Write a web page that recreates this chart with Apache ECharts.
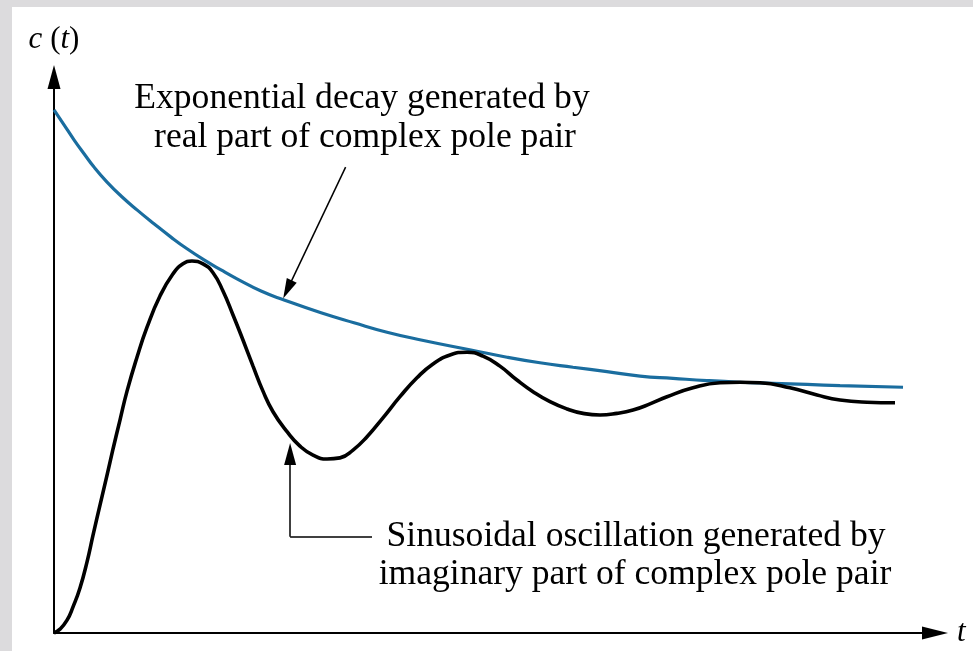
<!DOCTYPE html>
<html>
<head>
<meta charset="utf-8">
<script src="https://cdn.jsdelivr.net/npm/echarts@6/dist/echarts.min.js"></script>
<style>
  html, body { margin: 0; padding: 0; background: #fff; }
  #main { width: 973px; height: 651px; }
</style>
</head>
<body>
<div id="main"></div>
<script>
// exponential envelope (t, c(t))
var tDecay = [0, 0.114, 0.227, 0.341, 0.454, 0.602, 0.761, 0.942, 1.135, 1.328, 1.510, 1.703, 1.896, 2.077, 2.350, 2.611,
              3.031, 3.405, 3.780, 4.166, 4.733, 5.142, 5.516, 5.891, 6.277, 6.652, 7.026, 7.412, 7.787, 8.161, 8.547, 8.922, 9.637];
var cDecay = [0.941, 0.914, 0.887, 0.862, 0.838, 0.811, 0.786, 0.761, 0.736, 0.712, 0.691, 0.671, 0.653, 0.637, 0.615, 0.599,
              0.576, 0.558, 0.541, 0.527, 0.509, 0.496, 0.486, 0.478, 0.470, 0.462, 0.458, 0.454, 0.451, 0.449, 0.447, 0.445, 0.442];

// damped step response
var tResp = [0, 0.068, 0.148, 0.216, 0.295, 0.375, 0.443, 0.522, 0.602, 0.670, 0.749, 0.829, 0.942, 1.056, 1.203, 1.351,
             1.464, 1.566, 1.691, 1.805, 1.918, 2.032, 2.145, 2.259, 2.372, 2.486, 2.645, 2.792, 2.940, 3.099, 3.246, 3.394,
             3.553, 3.734, 3.927, 4.120, 4.302, 4.495, 4.688, 4.870, 5.062, 5.255, 5.437, 5.630, 5.823, 6.005, 6.198, 6.390,
             6.572, 6.765, 6.958, 7.253, 7.560, 7.787, 8.014, 8.354, 8.661, 8.922, 9.228, 9.546];
var cResp = [0, 0.007, 0.023, 0.047, 0.081, 0.128, 0.176, 0.230, 0.284, 0.331, 0.383, 0.435, 0.496, 0.550, 0.606, 0.646,
             0.664, 0.669, 0.664, 0.648, 0.615, 0.572, 0.527, 0.480, 0.435, 0.398, 0.362, 0.336, 0.320, 0.313, 0.315, 0.329,
             0.353, 0.387, 0.425, 0.459, 0.484, 0.500, 0.505, 0.498, 0.480, 0.455, 0.434, 0.416, 0.403, 0.395, 0.392, 0.395,
             0.401, 0.412, 0.425, 0.441, 0.450, 0.451, 0.450, 0.441, 0.428, 0.419, 0.415, 0.414];

// annotation arrows [t, c]
var arrowDecay = [[3.31, 0.838], [2.65, 0.618]];
var arrowOsc = [[3.61, 0.173], [2.68, 0.173], [2.68, 0.322]];

var labelDecay = ['Exponential decay generated by', 'real part of complex pole pair'];
var labelOsc = ['Sinusoidal oscillation generated by', 'imaginary part of complex pole pair'];

var serif = 'Liberation Serif';
var textFont = '35.6px "Liberation Serif"';

function pairs(xs, ys) {
    return xs.map(function (x, i) { return [x, ys[i]]; });
}

var chart = echarts.init(document.getElementById('main'));

var option = {
    animation: false,
    backgroundColor: '#fff',
    grid: { left: 54, right: 38, top: 77, bottom: 18 },
    xAxis: {
        type: 'value', min: 0, max: 10,
        name: '{i|t}',
        nameLocation: 'end',
        nameGap: 22,
        nameTextStyle: {
            color: '#000', fontFamily: serif, fontSize: 30,
            rich: { i: { fontStyle: 'italic', fontFamily: serif, fontSize: 31, color: '#000' } }
        },
        axisLine: {
            lineStyle: { color: '#000', width: 2 },
            symbol: ['none', 'triangle'],
            symbolSize: [13, 26]
        },
        axisTick: { show: false },
        axisLabel: { show: false },
        splitLine: { show: false }
    },
    yAxis: {
        type: 'value', min: 0, max: 1,
        name: '{i|c} ({i|t})',
        nameLocation: 'end',
        nameGap: 22,
        nameTextStyle: {
            color: '#000', fontFamily: serif, fontSize: 31,
            rich: { i: { fontStyle: 'italic', fontFamily: serif, fontSize: 31, color: '#000' } }
        },
        axisLine: {
            lineStyle: { color: '#000', width: 2 },
            symbol: ['none', 'triangle'],
            symbolSize: [13, 24]
        },
        axisTick: { show: false },
        axisLabel: { show: false },
        splitLine: { show: false }
    },
    graphic: [
        { type: 'rect', shape: { x: 0, y: 0, width: 973, height: 7 }, style: { fill: '#dcdbdd' }, silent: true },
        { type: 'rect', shape: { x: 0, y: 0, width: 12, height: 651 }, style: { fill: '#dcdbdd' }, silent: true },
        { type: 'text', x: 362, y: 99, style: { text: labelDecay[0], font: textFont, fill: '#000', textAlign: 'center', textVerticalAlign: 'middle' } },
        { type: 'text', x: 365, y: 138, style: { text: labelDecay[1], font: textFont, fill: '#000', textAlign: 'center', textVerticalAlign: 'middle' } },
        { type: 'text', x: 636, y: 537, style: { text: labelOsc[0], font: textFont, fill: '#000', textAlign: 'center', textVerticalAlign: 'middle' } },
        { type: 'text', x: 635, y: 575, style: { text: labelOsc[1], font: textFont, fill: '#000', textAlign: 'center', textVerticalAlign: 'middle' } }
    ],
    series: [
        {
            name: 'decay',
            type: 'line',
            data: pairs(tDecay, cDecay),
            smooth: 0.5,
            showSymbol: false,
            silent: true,
            lineStyle: { color: '#1a6d9f', width: 3.2 },
            z: 2
        },
        {
            name: 'response',
            type: 'line',
            data: pairs(tResp, cResp),
            smooth: 0.5,
            showSymbol: false,
            silent: true,
            lineStyle: { color: '#000', width: 3.6 },
            z: 3,
            markLine: {
                silent: true,
                animation: false,
                label: { show: false },
                lineStyle: { color: '#000', width: 1.5, type: 'solid' },
                symbol: ['none', 'none'],
                data: [
                    [
                        { coord: arrowDecay[0], symbol: 'none' },
                        { coord: arrowDecay[1], symbol: 'triangle', symbolSize: [11, 20] }
                    ],
                    [
                        { coord: arrowOsc[0], symbol: 'none' },
                        { coord: arrowOsc[1], symbol: 'none' }
                    ],
                    [
                        { coord: arrowOsc[1], symbol: 'none' },
                        { coord: arrowOsc[2], symbol: 'triangle', symbolSize: [12, 22] }
                    ]
                ]
            }
        }
    ]
};

chart.setOption(option);
</script>
</body>
</html>
